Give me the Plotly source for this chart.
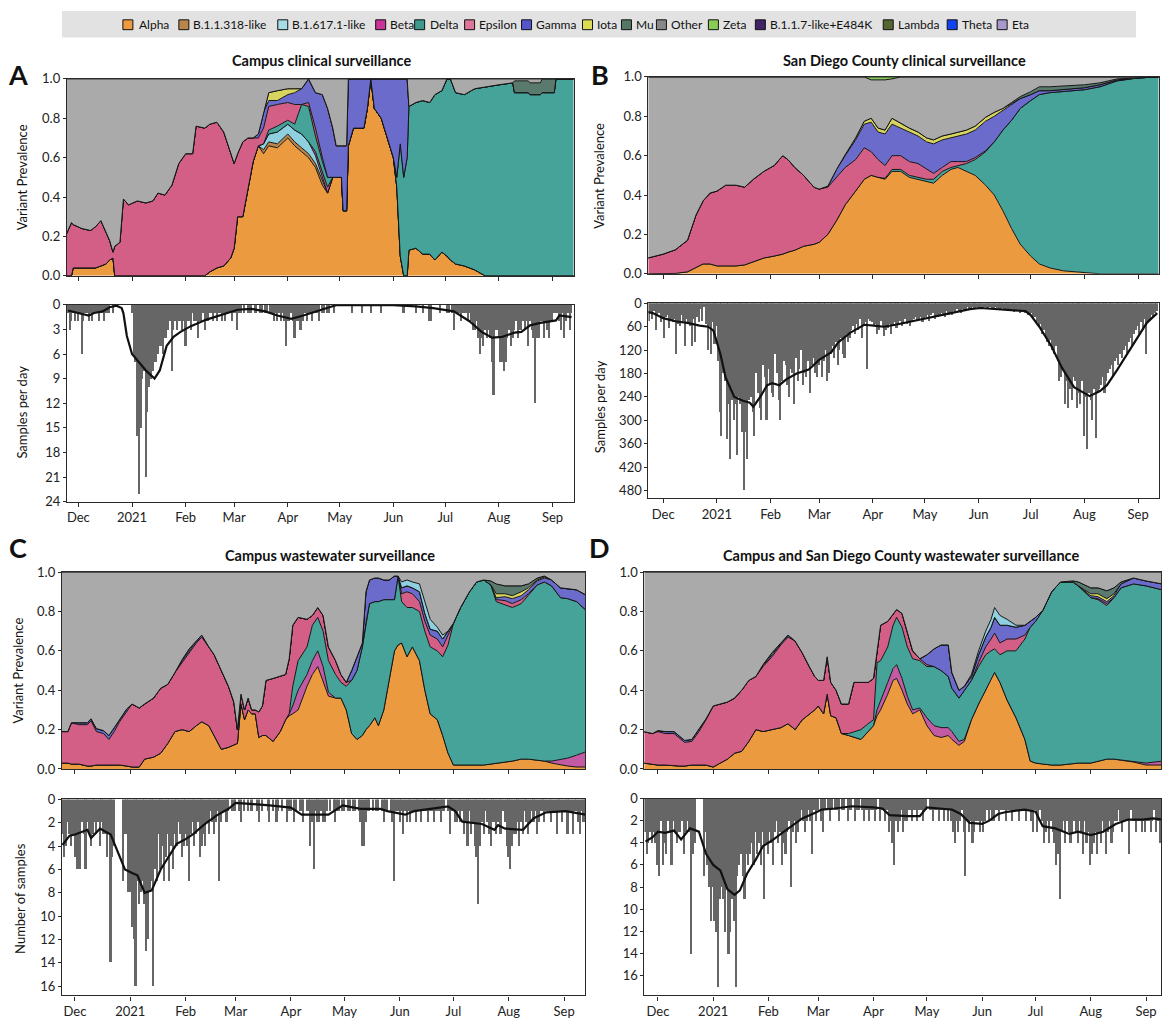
import pandas as pd
import plotly.graph_objects as go

W, H = 1162, 1029
FONT = "Lato, 'Open Sans', Arial, sans-serif"
INK = "#222222"

# ---------------------------------------------------------------- axes labels
MONTH_TICKS = ["2020-12-01", "2021-01-01", "2021-02-01", "2021-03-01", "2021-04-01",
               "2021-05-01", "2021-06-01", "2021-07-01", "2021-08-01", "2021-09-01"]
MONTH_LABELS = ["Dec", "2021", "Feb", "Mar", "Apr", "May", "Jun", "Jul", "Aug", "Sep"]
PREV_TICKS = [0, 0.2, 0.4, 0.6, 0.8, 1.0]
PREV_LABELS = ["0.0", "0.2", "0.4", "0.6", "0.8", "1.0"]

VARIANTS = ["Alpha", "B.1.1.318-like", "B.1.617.1-like", "Beta", "Delta", "Epsilon",
            "Gamma", "Iota", "Mu", "Other", "Zeta", "B.1.1.7-like+E484K", "Lambda",
            "Theta", "Eta"]
AREA_COLORS = {
    "Alpha": "#EC9A3F", "B.1.1.318-like": "#B8864B", "B.1.617.1-like": "#8FD0E0",
    "Beta": "#C25BA3", "Delta": "#45A39A", "Epsilon": "#D35F87", "Gamma": "#6B6BCB",
    "Iota": "#D8D460", "Mu": "#5A7A6E", "Other": "#AAAAAA", "Zeta": "#88C85A",
}
LEGEND_COLORS = ["#EE9A40", "#B8864B", "#A6DCE8", "#CC3399", "#3E9A8C", "#DD7799",
                 "#5555CC", "#DDDD55", "#557766", "#888888", "#88CC55", "#442266",
                 "#556633", "#1144EE", "#AA99CC"]

# ---------------------------------------------------------------- A: campus clinical prevalence
A_dates = ["2020-11-24", "2020-11-27", "2020-11-28", "2020-12-03", "2020-12-08", "2020-12-11",
           "2020-12-14", "2020-12-17", "2020-12-19", "2020-12-21", "2020-12-22", "2020-12-25",
           "2020-12-27", "2020-12-30", "2021-01-04", "2021-01-09", "2021-01-13", "2021-01-16",
           "2021-01-20", "2021-01-24", "2021-01-28", "2021-02-01", "2021-02-05", "2021-02-07",
           "2021-02-12", "2021-02-15", "2021-02-19", "2021-02-23", "2021-02-27", "2021-03-01",
           "2021-03-03", "2021-03-06", "2021-03-09", "2021-03-12", "2021-03-15", "2021-03-18",
           "2021-03-21", "2021-03-26", "2021-04-01", "2021-04-05", "2021-04-09", "2021-04-13",
           "2021-04-17", "2021-04-21", "2021-04-24", "2021-04-27", "2021-04-29", "2021-05-02",
           "2021-05-03", "2021-05-05", "2021-05-06", "2021-05-09", "2021-05-15", "2021-05-17",
           "2021-05-19", "2021-05-21", "2021-05-25", "2021-05-29", "2021-06-01", "2021-06-03",
           "2021-06-05", "2021-06-07", "2021-06-09", "2021-06-10", "2021-06-14", "2021-06-18",
           "2021-06-22", "2021-06-25", "2021-06-29", "2021-07-02", "2021-07-04", "2021-07-07",
           "2021-07-12", "2021-07-18", "2021-07-24", "2021-08-01", "2021-08-09", "2021-08-10",
           "2021-08-18", "2021-08-19", "2021-08-25", "2021-08-26", "2021-09-02", "2021-09-03",
           "2021-09-14"]
A_alpha = [0, 0, 0.04, 0.04, 0.04, 0.04, 0.05, 0.06, 0.08, 0.09,
           0, 0, 0, 0, 0, 0, 0, 0, 0, 0,
           0, 0, 0, 0, 0, 0.02, 0.04, 0.05, 0.09, 0.14,
           0.30, 0.30, 0.45, 0.58, 0.66, 0.62, 0.66, 0.65, 0.70, 0.66,
           0.63, 0.60, 0.55, 0.46, 0.42, 0.50, 0.50, 0.50, 0.33, 0.33,
           0.66, 0.75, 0.75, 0.85, 1.00, 0.85, 0.80, 0.68, 0.60, 0.45,
           0.10, 0, 0, 0.13, 0.14, 0.11, 0.11, 0.08, 0.12, 0.10,
           0.08, 0.06, 0.05, 0.03, 0, 0, 0, 0, 0, 0,
           0, 0, 0, 0, 0]
A_b318 = [0] * 35 + [0.02, 0.02, 0.02, 0.02, 0.02, 0.02, 0.02, 0.02, 0.02] + [0] * 41
A_b617 = [0] * 35 + [0.03, 0.04, 0.06, 0.05, 0.06, 0.07, 0.06, 0.04, 0.02] + [0] * 41
A_beta = [0] * 42 + [0.02, 0.03, 0.03] + [0] * 40
A_delta = ([0] * 36 + [0.02, 0.03, 0.02, 0.03, 0.15, 0.18, 0.08, 0.05, 0.05] + [0] * 14 +
           [0.05, 0.57, 0.50, 0.60, 0.73, 0.74, 0.78, 0.77, 0.84, 0.82, 0.90, 0.92, 0.87,
            0.87, 0.92, 0.96, 0.97, 0.98, 0.93, 0.93, 0.92, 0.92, 0.93, 0.93, 1.0, 1.0])
A_eps = ([0.21, 0.27, 0.22, 0.20, 0.19, 0.21, 0.23, 0.16, 0.10, 0.03,
          0.15, 0.17, 0.39, 0.36, 0.38, 0.37, 0.38, 0.42, 0.41, 0.46,
          0.57, 0.62, 0.62, 0.76, 0.75, 0.75, 0.74, 0.68, 0.53, 0.43,
          0.32, 0.38, 0.25, 0.12] +
         [0.04, 0.08, 0.12, 0.11, 0.09, 0.10, 0.00, 0.02, 0.04, 0.02] + [0] * 41)
A_gamma = ([0] * 34 + [0.02, 0.08, 0.03, 0.02, 0.04, 0.06, 0.08, 0.12, 0.18, 0.32, 0.35] +
           [0.25, 0.16, 0.16, 0.33, 0.33, 0.34, 0.25, 0.25, 0.15, 0, 0.15, 0.20, 0.32, 0.40,
            0.50, 0.33, 0.50, 0.40] + [0] * 22)
A_iota = [0] * 36 + [0.04, 0.05, 0.03, 0.02] + [0] * 45
A_mu = [0] * 77 + [0.06, 0.06, 0.06, 0.06, 0.07, 0.07] + [0, 0]

# ---------------------------------------------------------------- B: county clinical prevalence
B_dates = ["2020-11-22", "2020-12-01", "2020-12-08", "2020-12-15", "2020-12-20", "2020-12-24",
           "2020-12-28", "2021-01-01", "2021-01-06", "2021-01-12", "2021-01-17", "2021-01-22",
           "2021-01-28", "2021-02-03", "2021-02-08", "2021-02-11", "2021-02-15", "2021-02-20",
           "2021-02-26", "2021-03-01", "2021-03-06", "2021-03-11", "2021-03-16", "2021-03-22",
           "2021-03-27", "2021-03-31", "2021-04-04", "2021-04-08", "2021-04-12", "2021-04-17",
           "2021-04-22", "2021-04-27", "2021-05-02", "2021-05-06", "2021-05-11", "2021-05-16",
           "2021-05-20", "2021-05-25", "2021-05-30", "2021-06-05", "2021-06-10", "2021-06-15",
           "2021-06-20", "2021-06-25", "2021-07-01", "2021-07-06", "2021-07-12", "2021-07-20",
           "2021-08-01", "2021-08-10", "2021-08-20", "2021-09-01", "2021-09-13"]
B_alpha = [0, 0, 0.002, 0.01, 0.03, 0.05, 0.05, 0.04, 0.04, 0.04,
           0.045, 0.06, 0.08, 0.09, 0.10, 0.11, 0.12, 0.14, 0.15, 0.16,
           0.20, 0.27, 0.35, 0.42, 0.48, 0.50, 0.49, 0.48, 0.52, 0.52,
           0.49, 0.48, 0.47, 0.46, 0.50, 0.53, 0.54, 0.52, 0.50, 0.45,
           0.40, 0.32, 0.23, 0.15, 0.09, 0.05, 0.03, 0.015, 0.005, 0,
           0, 0, 0]
B_delta = [0] * 27 + [0.005, 0.01, 0.01, 0.01, 0.01, 0.01, 0.02, 0.02, 0.01, 0.01, 0.04,
                      0.08, 0.17, 0.27, 0.41, 0.55, 0.69, 0.79, 0.86, 0.89, 0.91, 0.93,
                      0.95, 0.98, 0.995, 1.0]
B_eps = [0.08, 0.10, 0.12, 0.16, 0.27, 0.32, 0.36, 0.38, 0.41, 0.41,
         0.395, 0.42, 0.44, 0.46, 0.50, 0.47, 0.42, 0.36, 0.29, 0.27,
         0.24, 0.22, 0.19, 0.16, 0.16, 0.12, 0.09, 0.065, 0.07, 0.07,
         0.07, 0.07, 0.05, 0.03, 0.02, 0.03, 0.02, 0.01, 0.01, 0.005] + [0] * 13
B_gamma = [0] * 20 + [0.005, 0.04, 0.06, 0.10, 0.12, 0.15, 0.14, 0.16, 0.16, 0.14,
                      0.15, 0.14, 0.14, 0.15, 0.14, 0.12, 0.13, 0.14, 0.14, 0.15,
                      0.13, 0.10, 0.08, 0.05, 0.03, 0.02, 0.01, 0.01, 0.01, 0.01,
                      0.005, 0, 0]
B_iota = [0] * 22 + [0.005, 0.01, 0.015, 0.02, 0.02, 0.02, 0.03, 0.025, 0.02, 0.02, 0.02,
                     0.02, 0.02, 0.02, 0.02, 0.02, 0.02, 0.02, 0.02, 0.01, 0.005] + [0] * 10
B_mu = [0] * 42 + [0.005, 0.01, 0.015, 0.02, 0.02, 0.02, 0.015, 0.01, 0.005, 0, 0]
B_zeta = [0] * 25 + [0.015, 0.015, 0.015, 0.01] + [0] * 24

# ---------------------------------------------------------------- C: campus wastewater prevalence
C_dates = ["2020-11-23", "2020-11-27", "2020-11-29", "2020-12-03", "2020-12-08", "2020-12-10",
           "2020-12-13", "2020-12-17", "2020-12-20", "2020-12-23", "2020-12-26", "2020-12-30",
           "2021-01-02", "2021-01-06", "2021-01-09", "2021-01-14", "2021-01-18", "2021-01-22",
           "2021-01-26", "2021-01-30", "2021-02-03", "2021-02-07", "2021-02-10", "2021-02-14",
           "2021-02-17", "2021-02-21", "2021-02-25", "2021-02-28", "2021-03-02", "2021-03-04",
           "2021-03-06", "2021-03-08", "2021-03-10", "2021-03-12", "2021-03-14", "2021-03-16",
           "2021-03-18", "2021-03-22", "2021-03-26", "2021-03-29", "2021-03-31", "2021-04-02",
           "2021-04-05", "2021-04-10", "2021-04-13", "2021-04-16", "2021-04-19", "2021-04-22",
           "2021-04-26", "2021-04-29", "2021-05-02", "2021-05-05", "2021-05-08", "2021-05-11",
           "2021-05-13", "2021-05-15", "2021-05-18", "2021-05-20", "2021-05-23", "2021-05-26",
           "2021-05-29", "2021-05-31", "2021-06-02", "2021-06-05", "2021-06-08", "2021-06-12",
           "2021-06-15", "2021-06-18", "2021-06-22", "2021-06-25", "2021-06-28", "2021-07-01",
           "2021-07-05", "2021-07-10", "2021-07-14", "2021-07-18", "2021-07-22", "2021-07-25",
           "2021-07-30", "2021-08-03", "2021-08-08", "2021-08-12", "2021-08-17", "2021-08-21",
           "2021-08-25", "2021-08-30", "2021-09-03", "2021-09-08", "2021-09-14"]
C_alpha = [0.03, 0.03, 0.025, 0.025, 0.015, 0.015, 0.02, 0.02, 0.02, 0.02,
           0.02, 0.015, 0.01, 0.01, 0.05, 0.06, 0.08, 0.13, 0.19, 0.20,
           0.19, 0.22, 0.24, 0.22, 0.17, 0.10, 0.11, 0.12, 0.13, 0.33,
           0.25, 0.30, 0.28, 0.28, 0.16, 0.17, 0.17, 0.14, 0.19, 0.25,
           0.27, 0.28, 0.30, 0.42, 0.48, 0.52, 0.45, 0.37, 0.36, 0.36,
           0.30, 0.18, 0.15, 0.17, 0.20, 0.22, 0.26, 0.22, 0.30, 0.45,
           0.60, 0.63, 0.64, 0.57, 0.62, 0.55, 0.40, 0.28, 0.25, 0.17,
           0.08, 0.02, 0.02, 0.02, 0.02, 0.02, 0.025, 0.03, 0.035, 0.04,
           0.05, 0.05, 0.045, 0.04, 0.03, 0.02, 0.015, 0.01, 0.01]
C_beta = ([0] * 40 + [0.01, 0.04, 0.10, 0.06, 0.07, 0.08, 0.07, 0.02] + [0] * 36 +
          [0.01, 0.03, 0.04, 0.06, 0.08])
C_delta = [0] * 41 + [0.10, 0.15, 0.14, 0.18, 0.17, 0.18, 0.16, 0.12, 0.08, 0.12,
                      0.27, 0.35, 0.45, 0.54, 0.62, 0.59, 0.63, 0.56, 0.41, 0.26,
                      0.35, 0.21, 0.25, 0.20, 0.25, 0.30, 0.34, 0.35, 0.40, 0.55,
                      0.72, 0.80, 0.88, 0.93, 0.94, 0.91, 0.82, 0.80, 0.78, 0.79,
                      0.83, 0.89, 0.91, 0.89, 0.82, 0.81, 0.78, 0.71]
C_eps = ([0.16, 0.16, 0.21, 0.20, 0.21, 0.23, 0.17, 0.16, 0.13, 0.17,
          0.22, 0.28, 0.32, 0.30, 0.28, 0.30, 0.33, 0.30, 0.30, 0.34,
          0.40, 0.42, 0.43, 0.40, 0.41, 0.40, 0.31, 0.22, 0.07, 0.05,
          0.05, 0.06, 0.02, 0.02, 0.13, 0.15, 0.28, 0.32, 0.28, 0.23, 0.28] +
         [0.31, 0.22, 0.14, 0.05, 0.05, 0.08, 0.07, 0.07, 0.04, 0.02] + [0] * 11 +
         [0.04, 0.08, 0.07, 0.05, 0.05, 0.06, 0.06, 0.05, 0.05] + [0] * 6 +
         [0.01, 0.02, 0.02, 0.02, 0.01] + [0] * 7)
C_gamma = ([0, 0, 0, 0.01, 0.01, 0.01, 0.015, 0.015, 0.02, 0.02,
            0.01, 0.01, 0, 0, 0, 0, 0, 0, 0, 0.01, 0.01, 0.01, 0.01] + [0] * 28 +
           [0.05, 0.07, 0.02, 0.16, 0.12, 0.12, 0.12, 0.10, 0.10, 0.12, 0] +
           [0.03, 0.03, 0.03, 0.05, 0.04, 0.03, 0.04, 0.04, 0.02] + [0] * 6 +
           [0.01, 0.02, 0.025, 0.02, 0.02, 0.02, 0.02, 0.03, 0.05, 0.05, 0.06, 0.08])
C_iota = [0] * 19 + [0.005, 0.01] + [0] * 56 + [0.02, 0.015, 0.015, 0.02, 0.01, 0.005, 0.005] + [0] * 5
C_mu = [0] * 76 + [0.02, 0.05, 0.04, 0.05, 0.03, 0.02, 0.01, 0.005] + [0] * 5
C_b617 = [0] * 62 + [0.03, 0.03, 0.03, 0.04, 0.06, 0.05, 0.02, 0.02] + [0] * 19

# ---------------------------------------------------------------- D: campus + county wastewater prevalence
D_dates = ["2020-11-23", "2020-11-28", "2020-12-01", "2020-12-05", "2020-12-10", "2020-12-13",
           "2020-12-16", "2020-12-20", "2020-12-24", "2020-12-28", "2021-01-01", "2021-01-05",
           "2021-01-09", "2021-01-13", "2021-01-17", "2021-01-21", "2021-01-25", "2021-01-29",
           "2021-02-03", "2021-02-08", "2021-02-12", "2021-02-16", "2021-02-20", "2021-02-24",
           "2021-02-27", "2021-03-01", "2021-03-04", "2021-03-06", "2021-03-08", "2021-03-11",
           "2021-03-14", "2021-03-18", "2021-03-21", "2021-03-25", "2021-03-29", "2021-04-01",
           "2021-04-03", "2021-04-05", "2021-04-09", "2021-04-12", "2021-04-14", "2021-04-17",
           "2021-04-20", "2021-04-23", "2021-04-27", "2021-05-01", "2021-05-05", "2021-05-09",
           "2021-05-13", "2021-05-15", "2021-05-19", "2021-05-22", "2021-05-26", "2021-05-30",
           "2021-06-03", "2021-06-06", "2021-06-08", "2021-06-11", "2021-06-15", "2021-06-20",
           "2021-06-25", "2021-06-28", "2021-07-01", "2021-07-05", "2021-07-10", "2021-07-15",
           "2021-07-22", "2021-07-25", "2021-08-01", "2021-08-05", "2021-08-10", "2021-08-14",
           "2021-08-18", "2021-08-25", "2021-09-01", "2021-09-10"]
D_alpha = [0.03, 0.025, 0.02, 0.02, 0.015, 0.015, 0.015, 0.02, 0.02, 0.02,
           0.01, 0.03, 0.05, 0.08, 0.09, 0.14, 0.20, 0.19, 0.20, 0.21,
           0.23, 0.20, 0.25, 0.28, 0.30, 0.32, 0.28, 0.38, 0.27, 0.26,
           0.18, 0.17, 0.16, 0.15, 0.19, 0.22, 0.27, 0.30, 0.38, 0.45,
           0.46, 0.40, 0.33, 0.28, 0.30, 0.22, 0.17, 0.16, 0.17, 0.15,
           0.12, 0.14, 0.25, 0.33, 0.40, 0.46, 0.49, 0.44, 0.35, 0.26,
           0.15, 0.04, 0.03, 0.025, 0.02, 0.02, 0.025, 0.03, 0.03, 0.04,
           0.05, 0.05, 0.045, 0.035, 0.02, 0.02]
D_beta = ([0] * 36 + [0.03, 0.05, 0.06, 0.06, 0.07, 0.06, 0.04, 0.02, 0.01, 0.04, 0.05,
                      0.05, 0.04, 0.04, 0.02, 0.01] + [0] * 22 + [0.01, 0.02])
D_delta = [0] * 31 + [0.01, 0.03, 0.05, 0.04, 0.03, 0.24, 0.20, 0.18, 0.22, 0.24,
                      0.26, 0.25, 0.26, 0.24, 0.26, 0.30, 0.29, 0.26, 0.22, 0.22,
                      0.25, 0.20, 0.19, 0.18, 0.14, 0.12, 0.14, 0.25, 0.34, 0.51,
                      0.68, 0.72, 0.78, 0.88, 0.93, 0.925, 0.90, 0.84, 0.82, 0.78,
                      0.82, 0.875, 0.905, 0.90, 0.87]
D_eps = ([0.16, 0.155, 0.17, 0.16, 0.165, 0.14, 0.12, 0.12, 0.17, 0.23,
          0.31, 0.30, 0.29, 0.28, 0.31, 0.31, 0.27, 0.33, 0.37, 0.42,
          0.44, 0.45, 0.34, 0.24, 0.17, 0.13, 0.17, 0.19, 0.17, 0.14,
          0.15, 0.15, 0.25, 0.24, 0.21, 0.21, 0.06, 0.18, 0.13, 0.06,
          0.04, 0.07, 0.08, 0.04, 0.01] + [0.01] + [0] * 7 +
         [0.02, 0.04, 0.06, 0.08, 0.06, 0.06, 0.06, 0.02] + [0] * 8 + [0.005, 0.01] + [0] * 5)
D_gamma = ([0, 0, 0.005, 0.01, 0.01, 0.01, 0.01, 0.01, 0.01, 0.005] + [0] * 7 +
           [0.005, 0.01, 0.01, 0.01] + [0] * 24 +
           [0.05, 0.09, 0.13, 0.16, 0.08, 0.04, 0.02, 0.02, 0.04, 0.05, 0.06, 0.08, 0.09,
            0.07, 0.06, 0.05, 0.03, 0.02] + [0] * 5 +
           [0.01, 0.01, 0.01, 0.01, 0.02, 0.03, 0.025, 0.03])
D_iota = [0] * 17 + [0.005, 0.01] + [0] * 49 + [0.01, 0.015, 0.015, 0.01] + [0] * 4
D_mu = [0] * 66 + [0.005, 0.02, 0.03, 0.03, 0.04, 0.03, 0.01] + [0, 0, 0]
D_b617 = [0] * 52 + [0.01, 0.02, 0.03, 0.04, 0.05, 0.05, 0.03, 0.01] + [0] * 16

# ---------------------------------------------------------------- daily sample counts
A_count_start = "2020-11-25"
A_counts = ([1, 3, 2, 1, 2, 1] +
            [2, 1, 6, 2, 1, 1, 2, 1, 2, 1, 1, 1, 2, 1, 1, 2, 1, 1, 1, 0, 1, 0, 0, 0, 0, 0, 0, 0, 0, 0, 0] +
            [1, 6, 7, 16, 23, 15, 9, 8, 21, 13, 10, 9, 8, 7, 7, 6, 5, 5, 6, 4, 4, 3, 2, 8, 3, 2, 3, 2, 2, 3, 2] +
            [5, 2, 2, 3, 1, 2, 2, 4, 2, 2, 1, 3, 2, 2, 1, 1, 2, 1, 2, 1, 1, 2, 1, 2, 1, 1, 1, 2] +
            [1, 1, 3, 1, 1, 0, 1, 0, 1, 1, 1, 0, 1, 1, 0, 1, 1, 0, 1, 1, 0, 1, 1, 2, 1, 2, 1, 2, 1, 2, 5] +
            [2, 2, 1, 2, 4, 2, 2, 3, 3, 2, 1, 2, 1, 1, 2, 1, 1, 1, 2, 0, 1, 1, 0, 1, 1, 0, 0, 1, 0, 0] +
            [0, 0, 0, 0, 0, 0, 0, 1, 0, 0, 0, 0, 0, 1, 0, 0, 0, 0, 1, 0, 0, 0, 0, 0, 1, 0, 0, 0, 0, 0, 0] +
            [0, 0, 0, 0, 0, 0, 1, 0, 0, 0, 0, 0, 0, 1, 0, 0, 0, 1, 0, 0, 0, 2, 2, 0, 0, 0, 0, 1, 0, 0] +
            [0, 1, 1, 0, 1, 3, 1, 1, 1, 2, 1, 1, 1, 2, 1, 2, 3, 3, 2, 4, 6, 4, 5, 3, 4, 3, 4, 7, 11, 3, 3] +
            [4, 7, 7, 8, 7, 4, 3, 5, 4, 3, 2, 4, 3, 3, 2, 3, 2, 5, 2, 3, 4, 12, 4, 4, 2, 2, 4, 2, 3, 4, 2] +
            [2, 1, 1, 1, 2, 3, 1, 4, 2, 1, 3, 1])
B_count_start = "2020-11-22"
B_counts = ([30, 45, 25, 40, 20, 70, 30, 25, 50] +
            [40, 90, 35, 30, 65, 45, 50, 40, 130, 55, 60, 30, 45, 110, 40, 50, 60, 110, 40, 100,
             35, 50, 15, 45, 10, 55, 120, 60, 130, 50, 105] +
            [60, 150, 280, 340, 180, 200, 350, 260, 400, 250, 300, 260, 390, 240, 260, 330, 480,
             330, 400, 250, 240, 280, 340, 180, 230, 270, 300, 160, 190, 300, 170] +
            [210, 230, 240, 130, 180, 250, 300, 200, 150, 160, 210, 240, 170, 180, 260, 140, 200,
             170, 120, 210, 180, 190, 150, 230, 160, 140, 180, 190] +
            [160, 140, 190, 150, 120, 200, 180, 130, 110, 140, 100, 160, 120, 90, 130, 140, 80,
             100, 90, 70, 60, 80, 55, 70, 40, 90, 60, 50, 170, 40, 45] +
            [50, 60, 55, 80, 70, 45, 60, 85, 70, 65, 55, 80, 60, 50, 65, 55, 45, 60, 50, 40, 55,
             45, 60, 50, 40, 35, 45, 40, 35, 50] +
            [40, 35, 30, 45, 30, 25, 40, 30, 35, 30, 25, 30, 35, 20, 30, 25, 30, 20, 25, 15, 20,
             25, 15, 20, 15, 10, 15, 15, 10, 15, 10] +
            [12, 10, 15, 12, 10, 12, 15, 10, 12, 15, 10, 12, 15, 18, 12, 15, 18, 15, 20, 18, 15,
             22, 20, 18, 25, 20, 22, 25, 25, 30] +
            [30, 25, 40, 35, 50, 60, 55, 80, 70, 90, 100, 110, 95, 120, 130, 110, 150, 200, 190,
             170, 260, 200, 270, 220, 250, 190, 200, 270, 230, 260, 200] +
            [340, 240, 375, 230, 250, 300, 220, 345, 230, 220, 210, 190, 230, 200, 180, 170, 160,
             190, 150, 140, 160, 130, 140, 120, 110, 130, 100, 90, 110, 80, 70] +
            [60, 80, 50, 70, 40, 130, 50, 40, 30, 35, 25, 20])
C_count_start = "2020-11-24"
C_counts = ([3, 5, 4, 2, 3, 4, 3] +
            [5, 6, 6, 6, 2, 3, 6, 2, 3, 4, 3, 2, 3, 2, 4, 2, 3, 3, 5, 3, 14, 5, 4, 0, 0, 0, 0, 7, 3, 3, 8] +
            [8, 11, 12, 16, 7, 9, 8, 7, 9, 13, 12, 8, 7, 16, 6, 7, 3, 6, 4, 7, 5, 3, 7, 4, 6, 3, 4, 2, 3, 5, 4] +
            [3, 4, 7, 3, 2, 4, 3, 2, 5, 4, 3, 4, 2, 3, 1, 2, 3, 2, 1, 7, 2, 1, 1, 2, 1, 0, 1, 1] +
            [1, 0, 1, 2, 0, 1, 0, 1, 0, 1, 0, 0, 1, 2, 0, 1, 0, 0, 1, 2, 0, 1, 0, 2, 1, 0, 1, 0, 0, 2, 1] +
            [1, 0, 2, 1, 0, 1, 1, 2, 0, 1, 1, 4, 2, 6, 1, 2, 2, 1, 2, 2, 1, 0, 1, 0, 1, 2, 1, 1, 0, 1] +
            [1, 0, 1, 1, 0, 1, 1, 0, 1, 2, 4, 4, 2, 1, 1, 0, 1, 0, 1, 1, 0, 1, 2, 1, 1, 0, 1, 2, 7, 1, 1] +
            [2, 1, 3, 1, 2, 1, 2, 1, 1, 2, 1, 1, 2, 1, 1, 1, 2, 1, 1, 2, 1, 1, 1, 2, 1, 1, 0, 1, 3, 1] +
            [1, 2, 2, 1, 2, 1, 3, 2, 4, 1, 3, 2, 4, 5, 9, 4, 2, 3, 1, 2, 3, 4, 2, 2, 3, 2, 3, 3, 1, 2, 4] +
            [5, 6, 4, 3, 3, 2, 4, 2, 3, 1, 2, 3, 2, 1, 2, 1, 3, 2, 1, 1, 2, 1, 1, 1, 2, 1, 1, 3, 1, 1, 2] +
            [1, 1, 3, 1, 1, 3, 1, 1, 2, 3, 1, 2, 2])
D_count_start = "2020-11-24"
D_counts = ([3, 5, 4, 3, 4, 3, 4] +
            [6, 7, 2, 6, 4, 5, 2, 3, 6, 2, 3, 4, 3, 3, 2, 5, 3, 2, 3, 14, 5, 4, 0, 0, 0, 0, 7, 3, 6, 8, 11] +
            [8, 11, 12, 17, 9, 8, 9, 12, 8, 14, 12, 9, 11, 17, 7, 6, 5, 7, 9, 5, 6, 5, 4, 6, 3, 5, 4, 6, 3, 9, 4] +
            [5, 3, 4, 6, 3, 2, 4, 3, 6, 4, 5, 3, 2, 8, 3, 2, 4, 3, 2, 1, 2, 3, 2, 1, 2, 5, 1, 2] +
            [1, 0, 2, 3, 1, 0, 1, 2, 1, 0, 1, 1, 2, 0, 1, 1, 0, 2, 1, 1, 0, 2, 1, 1, 0, 1, 2, 1, 1, 2, 1] +
            [1, 2, 1, 0, 2, 1, 1, 2, 1, 3, 2, 4, 6, 2, 3, 2, 1, 3, 2, 2, 1, 1, 2, 1, 1, 2, 1, 1, 2, 1] +
            [1, 0, 1, 1, 2, 1, 1, 2, 1, 1, 2, 1, 2, 1, 2, 3, 4, 2, 3, 2, 1, 3, 7, 2, 3, 2, 4, 3, 2, 2, 3] +
            [2, 3, 2, 1, 2, 1, 2, 2, 1, 1, 2, 1, 1, 1, 2, 1, 1, 2, 1, 1, 1, 2, 1, 1, 1, 2, 1, 1, 2, 3] +
            [1, 3, 2, 1, 2, 4, 3, 2, 4, 2, 3, 4, 6, 5, 9, 3, 2, 4, 2, 3, 4, 3, 2, 3, 4, 2, 3, 5, 2, 4, 3] +
            [6, 5, 4, 3, 5, 3, 4, 2, 3, 5, 3, 2, 4, 3, 2, 2, 1, 2, 3, 2, 2, 2, 5, 1, 2, 2, 3, 2, 2, 3, 2] +
            [3, 2, 2, 3, 2, 1, 3, 2, 4, 2])

# ---------------------------------------------------------------- smoothed daily samples
A_trend_dates = ["2020-11-25", "2020-12-01", "2020-12-07", "2020-12-10", "2020-12-15", "2020-12-19",
                 "2020-12-23", "2020-12-26", "2020-12-27", "2020-12-29", "2021-01-01", "2021-01-05",
                 "2021-01-09", "2021-01-14", "2021-01-17", "2021-01-21", "2021-01-25", "2021-01-29",
                 "2021-02-04", "2021-02-13", "2021-02-22", "2021-03-03", "2021-03-11", "2021-03-19",
                 "2021-03-26", "2021-04-03", "2021-04-10", "2021-04-17", "2021-04-25", "2021-04-29",
                 "2021-05-15", "2021-06-01", "2021-06-14", "2021-06-24", "2021-07-06", "2021-07-15",
                 "2021-07-22", "2021-07-28", "2021-08-03", "2021-08-10", "2021-08-14", "2021-08-19",
                 "2021-08-25", "2021-08-31", "2021-09-03", "2021-09-05", "2021-09-12"]
A_trend = [0.7, 1.0, 1.3, 1.0, 0.8, 0.3, 0.1, 0.4, 1.0, 3.8, 6.0, 7.0, 8.0, 9.0, 8.0, 5.0,
           3.9, 3.3, 2.6, 1.8, 1.2, 0.6, 0.5, 0.8, 1.3, 1.7, 1.3, 0.8, 0.3, 0.05, 0.05, 0.05,
           0.2, 0.4, 0.8, 2.0, 3.3, 4.0, 3.9, 3.4, 3.3, 2.5, 2.2, 2.0, 1.9, 1.3, 1.5]
B_trend_dates = ["2020-11-22", "2020-11-25", "2020-12-01", "2020-12-08", "2020-12-15", "2020-12-22",
                 "2020-12-27", "2020-12-30", "2021-01-03", "2021-01-06", "2021-01-11", "2021-01-16",
                 "2021-01-20", "2021-01-22", "2021-01-26", "2021-01-30", "2021-02-02", "2021-02-06",
                 "2021-02-10", "2021-02-16", "2021-02-23", "2021-03-01", "2021-03-08", "2021-03-12",
                 "2021-03-19", "2021-03-27", "2021-04-03", "2021-04-07", "2021-04-14", "2021-04-25",
                 "2021-05-05", "2021-05-16", "2021-05-27", "2021-06-02", "2021-06-13", "2021-06-28",
                 "2021-07-01", "2021-07-06", "2021-07-13", "2021-07-19", "2021-07-26", "2021-08-01",
                 "2021-08-04", "2021-08-10", "2021-08-14", "2021-08-20", "2021-08-27", "2021-09-01",
                 "2021-09-06", "2021-09-12"]
B_trend = [22, 25, 38, 46, 50, 57, 60, 70, 130, 190, 240, 250, 255, 265, 240, 210, 205, 210,
           195, 180, 170, 145, 125, 100, 75, 55, 58, 60, 55, 45, 35, 25, 15, 12, 15, 20, 30, 60,
           110, 165, 215, 230, 238, 225, 210, 170, 120, 85, 50, 25]
C_trend_dates = ["2020-11-24", "2020-11-28", "2020-12-01", "2020-12-05", "2020-12-08", "2020-12-10",
                 "2020-12-15", "2020-12-21", "2020-12-25", "2020-12-29", "2021-01-02", "2021-01-05",
                 "2021-01-09", "2021-01-13", "2021-01-18", "2021-01-22", "2021-01-27", "2021-02-01",
                 "2021-02-05", "2021-02-11", "2021-02-18", "2021-02-25", "2021-03-01", "2021-03-11",
                 "2021-03-20", "2021-04-01", "2021-04-07", "2021-04-22", "2021-04-30", "2021-05-10",
                 "2021-05-21", "2021-05-25", "2021-06-04", "2021-06-09", "2021-06-28", "2021-07-02",
                 "2021-07-06", "2021-07-17", "2021-07-24", "2021-07-26", "2021-07-30", "2021-08-09",
                 "2021-08-15", "2021-08-22", "2021-09-02", "2021-09-13"]
C_trend = [3.9, 3.1, 3.0, 2.8, 2.6, 3.3, 2.5, 3.0, 4.5, 6.0, 6.3, 6.5, 8.0, 7.8, 6.0, 5.0, 3.8,
           3.4, 3.0, 2.2, 1.4, 0.8, 0.3, 0.4, 0.5, 0.7, 1.3, 1.3, 0.5, 0.8, 0.8, 1.0, 1.3, 1.0,
           0.6, 1.0, 1.9, 2.1, 2.6, 2.2, 2.5, 2.6, 1.6, 1.1, 1.0, 1.3]
D_trend_dates = ["2020-11-24", "2020-11-28", "2020-12-01", "2020-12-05", "2020-12-10", "2020-12-14",
                 "2020-12-19", "2020-12-24", "2020-12-28", "2021-01-01", "2021-01-05", "2021-01-09",
                 "2021-01-13", "2021-01-16", "2021-01-20", "2021-01-25", "2021-01-29", "2021-02-03",
                 "2021-02-08", "2021-02-14", "2021-02-20", "2021-02-27", "2021-03-03", "2021-03-10",
                 "2021-03-20", "2021-04-01", "2021-04-06", "2021-04-10", "2021-04-20", "2021-04-27",
                 "2021-05-01", "2021-05-08", "2021-05-15", "2021-05-20", "2021-05-25", "2021-06-01",
                 "2021-06-05", "2021-06-10", "2021-06-15", "2021-06-25", "2021-07-01", "2021-07-05",
                 "2021-07-12", "2021-07-20", "2021-07-25", "2021-08-01", "2021-08-08", "2021-08-15",
                 "2021-08-22", "2021-08-30", "2021-09-05", "2021-09-10"]
D_trend = [3.9, 3.5, 3.0, 3.1, 2.9, 3.7, 2.7, 3.0, 5.0, 6.0, 6.5, 8.2, 8.7, 8.3, 6.8, 5.5, 4.3,
           3.8, 3.2, 2.5, 1.8, 1.3, 1.0, 0.9, 0.7, 0.8, 0.9, 1.5, 1.6, 1.6, 0.8, 0.9, 1.0, 1.4,
           2.2, 2.3, 2.0, 1.4, 1.2, 1.0, 1.2, 2.5, 2.7, 3.2, 3.0, 3.3, 3.0, 2.3, 1.9, 1.9, 1.8, 1.9]


# ---------------------------------------------------------------- helpers
def xdom(left, right):
    return [left / W, min(right / W, 1.0)]


def ydom(top, bottom):
    return [1 - bottom / H, 1 - top / H]


def add_stack(fig, dates, layers, xa, ya, group):
    """Stack prevalence layers bottom-to-top; the 'Other' slot takes the remainder."""
    n = len(dates)
    for name, vals in layers:
        if vals is not None and len(vals) != n:
            raise ValueError(f"{group}/{name}: {len(vals)} values for {n} dates")
    totals = [sum(v[i] for _, v in layers if v is not None) for i in range(n)]
    other = [round(max(0.0, 1.0 - t), 4) for t in totals]
    for name, vals in layers:
        y = other if vals is None else vals
        fig.add_trace(go.Scatter(
            x=dates, y=y, xaxis=xa, yaxis=ya, stackgroup=group, mode="lines",
            line=dict(color="#151515", width=1), fillcolor=AREA_COLORS[name],
            name=name, showlegend=False, hoverinfo="skip"))


def add_counts(fig, start, counts, tdates, trend, xa, ya):
    days = pd.date_range(start, periods=len(counts), freq="D").strftime("%Y-%m-%d").tolist()
    fig.add_trace(go.Bar(x=days, y=counts, xaxis=xa, yaxis=ya, width=86400000 * 0.9,
                         marker=dict(color="#666666", line=dict(width=0)),
                         showlegend=False, hoverinfo="skip"))
    fig.add_trace(go.Scatter(x=tdates, y=trend, xaxis=xa, yaxis=ya, mode="lines",
                             line=dict(color="#111111", width=2.2), showlegend=False,
                             hoverinfo="skip"))


fig = go.Figure()

add_stack(fig, A_dates, [("Alpha", A_alpha), ("B.1.1.318-like", A_b318), ("B.1.617.1-like", A_b617),
                         ("Beta", A_beta), ("Delta", A_delta), ("Epsilon", A_eps),
                         ("Gamma", A_gamma), ("Iota", A_iota), ("Mu", A_mu), ("Other", None)],
          "x", "y", "A")
add_stack(fig, B_dates, [("Alpha", B_alpha), ("Delta", B_delta), ("Epsilon", B_eps),
                         ("Gamma", B_gamma), ("Iota", B_iota), ("Mu", B_mu), ("Other", None),
                         ("Zeta", B_zeta)],
          "x3", "y3", "B")
add_stack(fig, C_dates, [("Alpha", C_alpha), ("Beta", C_beta), ("Delta", C_delta),
                         ("Epsilon", C_eps), ("Gamma", C_gamma), ("Iota", C_iota), ("Mu", C_mu),
                         ("B.1.617.1-like", C_b617), ("Other", None)],
          "x5", "y5", "C")
add_stack(fig, D_dates, [("Alpha", D_alpha), ("Beta", D_beta), ("Delta", D_delta),
                         ("Epsilon", D_eps), ("Gamma", D_gamma), ("Iota", D_iota), ("Mu", D_mu),
                         ("B.1.617.1-like", D_b617), ("Other", None)],
          "x7", "y7", "D")

add_counts(fig, A_count_start, A_counts, A_trend_dates, A_trend, "x2", "y2")
add_counts(fig, B_count_start, B_counts, B_trend_dates, B_trend, "x4", "y4")
add_counts(fig, C_count_start, C_counts, C_trend_dates, C_trend, "x6", "y6")
add_counts(fig, D_count_start, D_counts, D_trend_dates, D_trend, "x8", "y8")

# ---------------------------------------------------------------- axes
frame = dict(showline=True, linecolor="#2a2a2a", linewidth=1.2, mirror=True, showgrid=False,
             zeroline=False, ticks="outside", tickcolor="#2a2a2a", tickwidth=1,
             tickfont=dict(family=FONT, size=13, color=INK))

columns = {
    # name: (top idx, bottom idx, x domain px, x range, top y px, bottom y px, count range, count ticks)
    "A": (1, 2, (67, 574), ["2020-11-24 09:00", "2021-09-13 03:00"], (72, 272), (301.5, 501.5),
          [24.0, 0], list(range(0, 25, 3))),
    "B": (3, 4, (649, 1159.5), ["2020-11-22 12:00", "2021-09-12 18:00"], (70, 270), (300, 498),
          [500, 0], list(range(0, 481, 60))),
    "C": (5, 6, (62, 586), ["2020-11-23 17:00", "2021-09-13 00:00"], (573, 773), (804, 1003),
          [16.8, 0], list(range(0, 17, 2))),
    "D": (7, 8, (645, 1162), ["2020-11-23 10:00", "2021-09-09 10:00"], (573, 773), (803, 1003),
          [17.8, 0], list(range(0, 17, 2))),
}

layout_axes = {}
for key, (ti, bi, xd, xr, ty, by, crange, cticks) in columns.items():
    for idx, ypx, show_labels in ((ti, ty, False), (bi, by, True)):
        xname = "xaxis" if idx == 1 else f"xaxis{idx}"
        yname = "yaxis" if idx == 1 else f"yaxis{idx}"
        yref = "y" if idx == 1 else f"y{idx}"
        xref = "x" if idx == 1 else f"x{idx}"
        layout_axes[xname] = dict(frame, type="date", domain=xdom(*xd), range=xr, anchor=yref,
                                  tickmode="array", tickvals=MONTH_TICKS, ticktext=MONTH_LABELS,
                                  showticklabels=show_labels, ticklen=4)
        if idx == ti:
            layout_axes[yname] = dict(frame, domain=ydom(*ypx), range=[0, 1], anchor=xref,
                                      tickmode="array", tickvals=PREV_TICKS, ticktext=PREV_LABELS,
                                      ticklen=3)
        else:
            layout_axes[yname] = dict(frame, domain=ydom(*ypx), range=crange, anchor=xref,
                                      tickmode="array", tickvals=cticks,
                                      ticktext=[str(t) for t in cticks], ticklen=3)


# ---------------------------------------------------------------- text
def note(text, xpx, ypx, size, bold=False, angle=0, anchor="center"):
    return dict(text=f"<b>{text}</b>" if bold else text, x=xpx / W, y=1 - ypx / H,
                xref="paper", yref="paper", xanchor=anchor, yanchor="middle",
                showarrow=False, textangle=angle,
                font=dict(family=FONT, size=size, color="#111111"))


annotations = [
    note("A", 18, 68, 27, bold=True), note("B", 601, 68, 27, bold=True),
    note("C", 18, 548, 27, bold=True), note("D", 600, 548, 27, bold=True),
    note("Campus clinical surveillance", 322, 53, 14.5, bold=True),
    note("San Diego County clinical surveillance", 905, 53, 14.5, bold=True),
    note("Campus wastewater surveillance", 330, 556, 14.5, bold=True),
    note("Campus and San Diego County wastewater surveillance", 902, 556, 14.5, bold=True),
    note("Variant Prevalence", 22, 172, 13, angle=-90),
    note("Samples per day", 22, 410, 13, angle=-90),
    note("Variant Prevalence", 600, 170, 13, angle=-90),
    note("Samples per day", 600, 405, 13, angle=-90),
    note("Variant Prevalence", 18, 673, 13, angle=-90),
    note("Number of samples", 20, 904, 13, angle=-90),
]

# legend strip: gray box, outlined swatches and labels
SWATCH_X = [128, 184, 283, 381, 420, 470, 527, 588, 627, 662, 714, 761, 889, 953, 1003]
LABEL_X = [137, 191, 290, 388, 428, 477, 534, 596, 635, 670, 722, 769, 897, 961, 1011]
shapes = [dict(type="rect", xref="paper", yref="paper", x0=62 / W, x1=1137 / W,
               y0=1 - 30 / H, y1=1 - 3 / H, fillcolor="#E2E2E2", line=dict(width=0),
               layer="below")]
for name, color, sx, lx in zip(VARIANTS, LEGEND_COLORS, SWATCH_X, LABEL_X):
    shapes.append(dict(type="rect", xref="paper", yref="paper",
                       x0=(sx - 5) / W, x1=(sx + 5) / W, y0=1 - 22 / H, y1=1 - 12 / H,
                       fillcolor=color, line=dict(color="#111111", width=1)))
    annotations.append(note(name, lx, 16.5, 12, anchor="left"))

fig.update_layout(
    width=W, height=H, margin=dict(l=0, r=0, t=0, b=0),
    paper_bgcolor="white", plot_bgcolor="white", bargap=0,
    font=dict(family=FONT, color=INK), showlegend=False,
    annotations=annotations, shapes=shapes, **layout_axes,
)

fig.write_html("out.html")
